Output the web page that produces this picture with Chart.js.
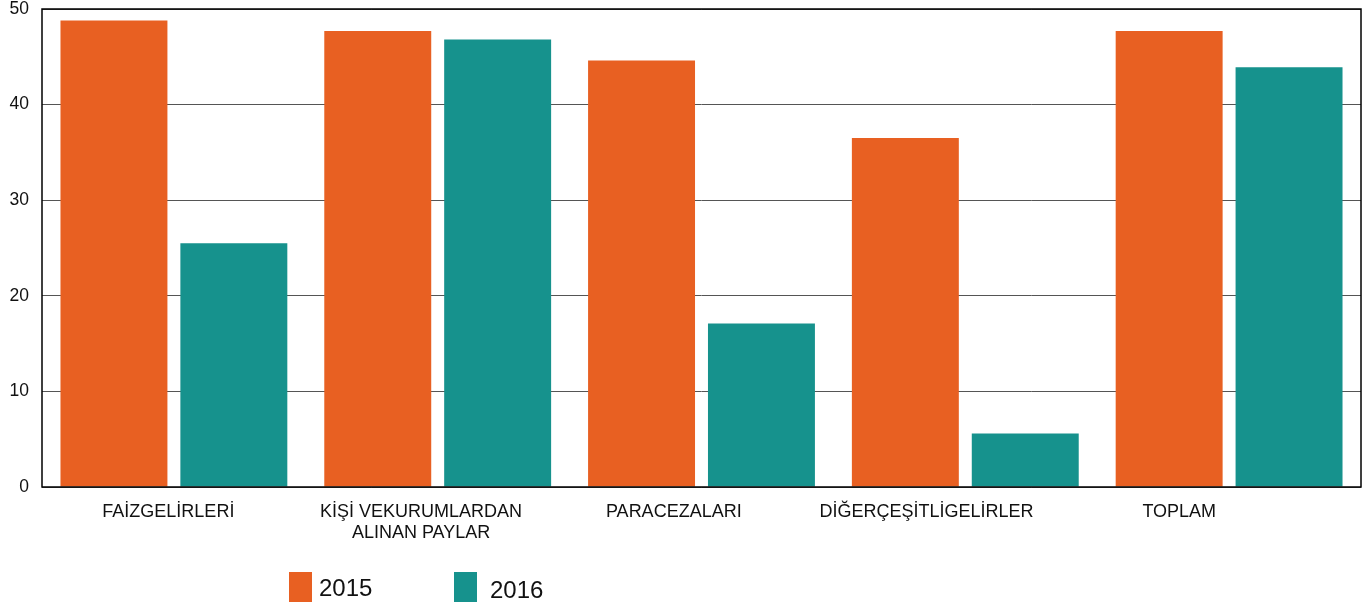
<!DOCTYPE html>
<html>
<head>
<meta charset="utf-8">
<script src="https://cdn.jsdelivr.net/npm/chart.js@4/dist/chart.umd.min.js"></script>
<style>
  html, body { margin: 0; padding: 0; background: #fff; }
  #wrap { width: 1365px; height: 604px; }
</style>
</head>
<body>
<div id="wrap"><canvas id="barGraph" width="1365" height="604"></canvas></div>
<script>
  const categories = [
    ['FAİZGELİRLERİ'],
    ['KİŞİ VEKURUMLARDAN', 'ALINAN PAYLAR'],
    ['PARACEZALARI'],
    ['DİĞERÇEŞİTLİGELİRLER'],
    ['TOPLAM'],
  ];
  const seriesNames = ['2015', '2016'];
  const values2015 = [48.8, 47.7, 44.6, 36.5, 47.7];
  const values2016 = [25.5, 46.8, 17.1, 5.6, 43.9];
  const yTicks = [0, 10, 20, 30, 40, 50];

  const orange = '#E86022';
  const teal = '#16928D';
  const font = 'Liberation Sans, Arial, sans-serif';

  // category labels sit a bit left of the bar groups in the original
  const labelPlugin = {
    id: 'catLabels',
    afterDraw(chart) {
      const ctx = chart.ctx;
      const x = chart.scales.x;
      const step = x.width * 0.958 / categories.length;
      ctx.save();
      ctx.fillStyle = '#111';
      ctx.font = '18px ' + font;
      ctx.textAlign = 'center';
      ctx.textBaseline = 'top';
      categories.forEach((lines, i) => {
        const cx = x.left + step * (i + 0.5);
        lines.forEach((t, j) => ctx.fillText(t, cx, x.bottom + 16 + j * 21));
      });
      ctx.restore();
    }
  };

  const legendPlugin = {
    id: 'ownLegend',
    afterDraw(chart) {
      const ctx = chart.ctx;
      const spots = [[289, 572, 319, 589], [454, 572, 490, 591]];
      ctx.save();
      ctx.font = '24px ' + font;
      ctx.textBaseline = 'middle';
      chart.data.datasets.forEach((ds, i) => {
        const s = spots[i];
        ctx.fillStyle = ds.backgroundColor;
        ctx.fillRect(s[0], s[1], 23, 30);
        ctx.fillStyle = '#111';
        ctx.fillText(ds.label, s[2], s[3]);
      });
      ctx.restore();
    }
  };

  const frame = {
    id: 'frame',
    afterDatasetsDraw(chart) {
      const a = chart.chartArea;
      const ctx = chart.ctx;
      ctx.save();
      ctx.strokeStyle = '#000';
      ctx.lineWidth = 1.5;
      ctx.strokeRect(a.left, a.top, a.right - a.left, a.bottom - a.top);
      ctx.restore();
    }
  };

  const data = {
    labels: categories,
    datasets: [{
      label: seriesNames[0],
      data: values2015,
      backgroundColor: orange,
      categoryPercentage: 0.909,
      barPercentage: 0.892,
    }, {
      label: seriesNames[1],
      data: values2016,
      backgroundColor: teal,
      categoryPercentage: 0.909,
      barPercentage: 0.892,
    }]
  };

  const config = {
    type: 'bar',
    data,
    plugins: [labelPlugin, legendPlugin, frame],
    options: {
      responsive: false,
      animation: false,
      layout: { padding: { top: 9, right: 4, bottom: 117, left: 0 } },
      plugins: {
        legend: { display: false },
        tooltip: { enabled: false }
      },
      scales: {
        x: {
          ticks: { display: false },
          grid: { display: false, drawTicks: false },
          border: { display: false }
        },
        y: {
          min: 0,
          max: 50,
          afterFit(scale) {
            scale.width = 42;
            scale.paddingTop = 0;
            scale.paddingBottom = 0;
          },
          afterBuildTicks(scale) { scale.ticks = yTicks.map(v => ({ value: v })); },
          ticks: {
            padding: 13,
            color: '#111',
            font: { family: font, size: 17.5 }
          },
          grid: { color: '#555', lineWidth: 1, drawTicks: false },
          border: { display: false }
        }
      }
    }
  };

  const myChart = new Chart(
    document.getElementById('barGraph'),
    config
  );
</script>
</body>
</html>
